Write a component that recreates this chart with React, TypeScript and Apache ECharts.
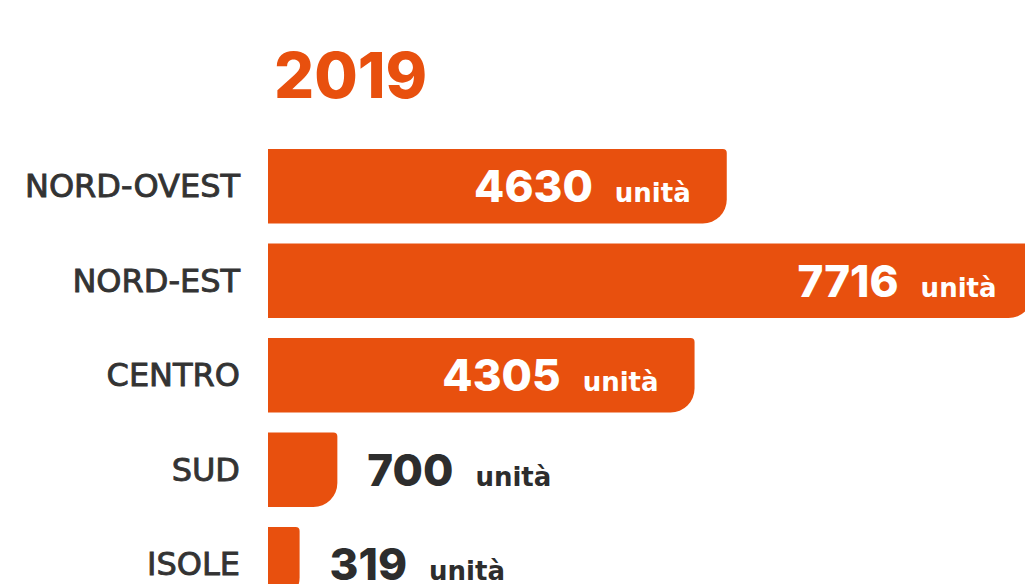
import React, { useEffect, useRef } from "react";
import * as echarts from "echarts";

const title = "2019";
const categories = ["NORD-OVEST", "NORD-EST", "CENTRO", "SUD", "ISOLE"];
const values = [4630, 7716, 4305, 700, 319];
const unit = "unità";

const ORANGE = "#E8500E";

export default function App() {
  const ref = useRef<HTMLDivElement>(null);
  useEffect(() => {
    if (!ref.current) return;
    const chart = echarts.init(ref.current, null, { renderer: "svg" });
    const data = values.map((v) => {
      const inside = v > 2000;
      const c = inside ? "#ffffff" : "#2d2d2d";
      return {
        value: v,
        label: {
          position: inside ? "insideRight" : "right",
          distance: inside ? 36 : 30,
          rich: {
            n: {
              fontFamily: "Inter",
              fontWeight: 800,
              fontSize: 44,
              color: c,
              lineHeight: 50,
            },
            u: {
              fontFamily: "DejaVu Sans",
              fontWeight: "bold",
              fontSize: 26,
              color: c,
              lineHeight: 50,
              padding: [14, 0, 0, 22],
            },
          },
        },
      };
    });
    chart.setOption({
      animation: false,
      title: {
        text: title,
        left: 269,
        top: 38,
        textStyle: {
          fontFamily: "Inter",
          fontWeight: 800,
          fontSize: 63,
          color: ORANGE,
        },
      },
      grid: {
        left: 268,
        top: 139,
        width: 757,
        height: 472.5,
        outerBoundsMode: "none",
        containLabel: false,
      },
      xAxis: { type: "value", min: 0, max: 7640, show: false },
      yAxis: {
        type: "category",
        inverse: true,
        data: categories,
        axisLine: { show: false },
        axisTick: { show: false },
        axisLabel: {
          margin: 28,
          fontFamily: "DejaVu Sans",
          fontWeight: "normal",
          fontSize: 32,
          color: "#333333",
          textBorderColor: "#333333",
          textBorderWidth: 0.9,
        },
      },
      series: [
        {
          type: "bar",
          data,
          clip: false,
          barCategoryGap: "21%",
          itemStyle: { color: ORANGE, borderRadius: [0, 4, 24, 0] },
          label: {
            show: true,
            formatter: (p: any) => `{n|${p.value}}{u|${unit}}`,
          },
        },
      ],
    });
    return () => chart.dispose();
  }, []);
  return (
    <div
      ref={ref}
      style={{ position: "fixed", left: 0, top: 0, width: 1025, height: 584, background: "#fff" }}
    />
  );
}
